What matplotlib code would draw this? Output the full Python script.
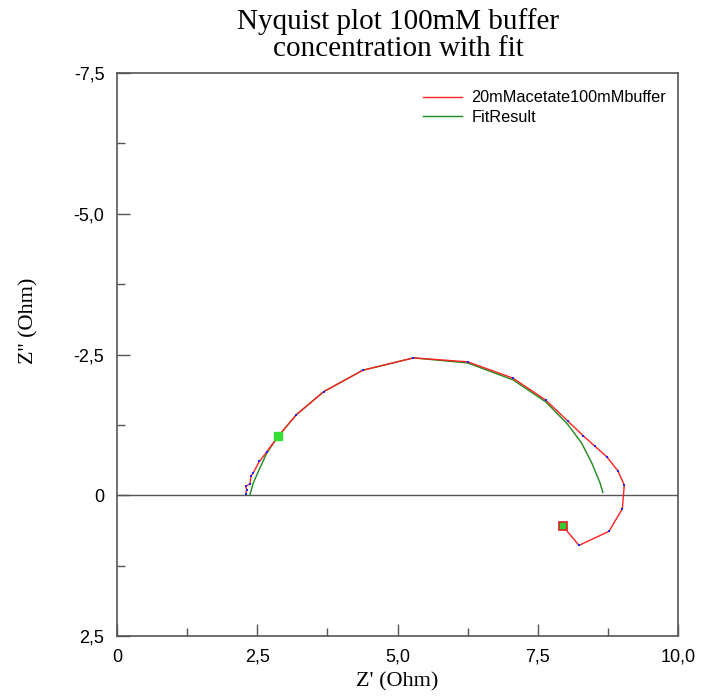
import matplotlib

matplotlib.use("Agg")
import matplotlib.pyplot as plt
from matplotlib.ticker import FixedLocator, MultipleLocator

# measured data (Z' real, Z'' imaginary), Ohm
z_re = [2.294, 2.312, 2.294, 2.371, 2.389, 2.43, 2.537, 2.668, 2.875, 3.196,
        3.684, 4.38, 5.285, 6.251, 7.059, 7.642, 8.034, 8.307, 8.52, 8.734,
        8.93, 9.043, 9.007, 8.77, 8.235, 7.95]
z_im = [-0.03, -0.10, -0.16, -0.20, -0.34, -0.40, -0.60, -0.77, -1.05, -1.43,
        -1.84, -2.22, -2.44, -2.37, -2.08, -1.69, -1.32, -1.06, -0.87, -0.68,
        -0.43, -0.18, 0.24, 0.64, 0.89, 0.55]

# fit result
fit_re = [2.37, 2.43, 2.55, 2.67, 2.875, 3.196, 3.684, 4.38, 5.285, 6.251,
          7.059, 7.642, 8.034, 8.28, 8.46, 8.61, 8.66]
fit_im = [-0.01, -0.22, -0.49, -0.75, -1.05, -1.43, -1.84, -2.22, -2.44, -2.35,
          -2.05, -1.66, -1.26, -0.93, -0.58, -0.22, -0.05]

x_ticks = [0, 2.5, 5.0, 7.5, 10.0]
x_labels = ["0", "2,5", "5,0", "7,5", "10,0"]
y_ticks = [-7.5, -5.0, -2.5, 0, 2.5]
y_labels = ["-7,5", "-5,0", "-2,5", "0", "2,5"]

fig = plt.figure(figsize=(7.01, 7.00), dpi=100)
ax = fig.add_axes([0.1669, 0.0914, 0.8003, 0.8043])

ax.axhline(0, color="#555555", lw=1.0, zorder=1)
ax.plot(z_re, z_im, color="#ff2020", lw=1.0, label="20mMacetate100mMbuffer", zorder=3)
ax.plot(fit_re, fit_im, color="#1a8a1a", lw=1.0, label="FitResult", zorder=2)
ax.plot(z_re, z_im, ls="none", marker="s", ms=2, color="#2020ff", mew=0, zorder=4)
# cursor markers
ax.plot([z_re[8]], [z_im[8]], ls="none", marker="s", ms=6, mfc="#33dd33",
        mec="#33dd33", zorder=5)
ax.plot([z_re[-1]], [z_im[-1]], ls="none", marker="s", ms=6, mfc="#33cc33",
        mec="#dd2020", mew=1.2, zorder=5)

ax.set_xlim(0, 10)
ax.set_ylim(2.5, -7.5)

ax.xaxis.set_major_locator(FixedLocator(x_ticks))
ax.set_xticklabels(x_labels)
ax.yaxis.set_major_locator(FixedLocator(y_ticks))
ax.set_yticklabels(y_labels)
ax.xaxis.set_minor_locator(MultipleLocator(1.25))
ax.yaxis.set_minor_locator(MultipleLocator(1.25))

ax.tick_params(which="both", direction="in", colors="#555555", labelcolor="black",
               labelsize=13, top=False, right=False)
ax.tick_params(which="major", length=9, width=1)
ax.tick_params(which="minor", length=6, width=1)
ax.tick_params(axis="x", which="major", pad=9)
ax.tick_params(axis="y", which="major", pad=9)
for lab in ax.get_xticklabels() + ax.get_yticklabels():
    lab.set_family("Liberation Sans")
for s in ax.spines.values():
    s.set_color("#555555")
    s.set_linewidth(1.2)

ax.set_xlabel("Z' (Ohm)", family="Liberation Serif", fontsize=16)
ax.set_ylabel("Z'' (Ohm)", family="Liberation Serif", fontsize=16)
ax.xaxis.set_label_coords(0.5, -0.065)
ax.yaxis.set_label_coords(-0.14, 0.56)

fig.text(0.568, 0.988, "Nyquist plot 100mM buffer\nconcentration with fit",
         ha="center", va="top", family="Liberation Serif", fontsize=21,
         linespacing=1.05)

leg = ax.legend(loc="upper right", bbox_to_anchor=(1.005, 0.995), frameon=False,
                prop={"family": "Liberation Sans", "size": 11.7},
                handlelength=2.4, handletextpad=0.6, labelspacing=0.25)

fig.savefig("out.png", dpi=100)
